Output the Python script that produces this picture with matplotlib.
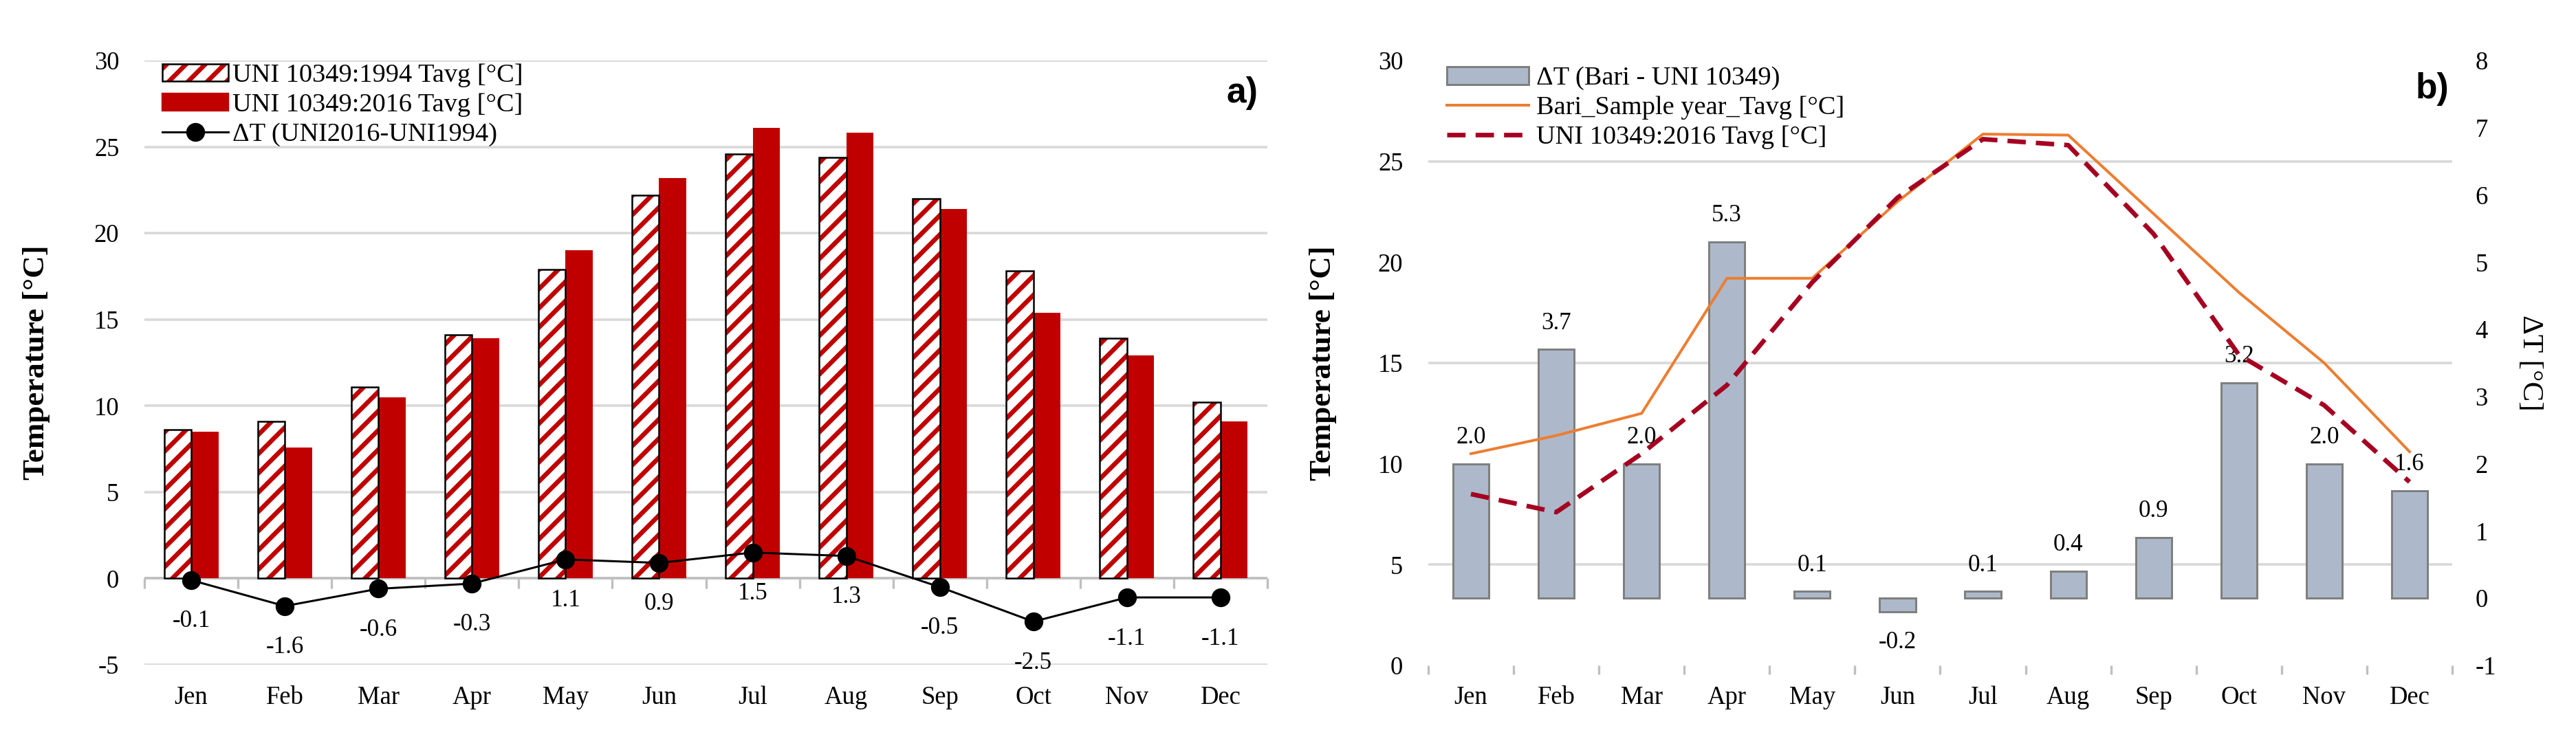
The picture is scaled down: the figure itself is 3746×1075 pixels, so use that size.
import numpy as np
import matplotlib
matplotlib.use('Agg')
import matplotlib.pyplot as plt
from matplotlib.patches import Patch
from matplotlib.lines import Line2D

# ---------------- data ----------------
months = ['Jen', 'Feb', 'Mar', 'Apr', 'May', 'Jun', 'Jul', 'Aug', 'Sep', 'Oct', 'Nov', 'Dec']
uni1994_tavg = [8.6, 9.1, 11.1, 14.1, 17.9, 22.2, 24.6, 24.4, 22.0, 17.8, 13.9, 10.2]
uni2016_tavg = [8.5, 7.6, 10.5, 13.9, 19.0, 23.2, 26.1, 25.8, 21.4, 15.4, 12.9, 9.1]
dT_uni = [-0.1, -1.6, -0.6, -0.3, 1.1, 0.9, 1.5, 1.3, -0.5, -2.5, -1.1, -1.1]
bari_tavg = [10.5, 11.4, 12.5, 19.2, 19.2, 23.0, 26.35, 26.3, 22.4, 18.5, 15.0, 10.6]
dT_bari = [2.0, 3.7, 2.0, 5.3, 0.1, -0.2, 0.1, 0.4, 0.9, 3.2, 2.0, 1.6]

labels_a = ['UNI 10349:1994 Tavg [°C]', 'UNI 10349:2016 Tavg [°C]', 'ΔT (UNI2016-UNI1994)']
labels_b = ['ΔT (Bari - UNI 10349)', 'Bari_Sample year_Tavg [°C]', 'UNI 10349:2016 Tavg [°C]']

# ---------------- style ----------------
DPI = 168
W, H = 3747, 1075


def p(v):
    # sizes below were tuned for 120 dpi; convert to points at DPI
    return v * 120.0 / DPI


plt.rcParams['font.family'] = ['Liberation Serif', 'DejaVu Serif']
plt.rcParams['hatch.linewidth'] = p(4.0)
plt.rcParams['axes.unicode_minus'] = False

RED = '#C00000'
GRID = '#D9D9D9'
AXGRAY = '#BFBFBF'
BARB = '#ADB9CA'
BAREDGE = '#7F7F7F'
ORANGE = '#ED7D31'
DASHRED = '#A50021'
FS = p(22)
LFS = p(23)

fig = plt.figure(figsize=(W / DPI, H / DPI), dpi=DPI)
fig.patch.set_facecolor('white')


def rect(x0, y0, x1, y1):
    return [x0 / W, 1 - y1 / H, (x1 - x0) / W, (y1 - y0) / H]


x = np.arange(len(months))

# ---------------- panel a ----------------
axA = fig.add_axes(rect(210, 88, 1843, 967))
bw = 0.29
axA.bar(x - bw / 2, uni1994_tavg, bw, facecolor='white', edgecolor=RED, hatch='//',
        linewidth=0, zorder=2)
axA.bar(x - bw / 2, uni1994_tavg, bw, fill=False, edgecolor='black', linewidth=p(1.5), zorder=2.1)
axA.bar(x + bw / 2, uni2016_tavg, bw, color=RED, linewidth=0, zorder=2)
axA.axhline(0, color=AXGRAY, lw=p(2.2), zorder=1.5)
axA.plot(x, dT_uni, color='black', lw=p(1.8), marker='o', ms=p(15), zorder=3)
for xi, v in zip(x, dT_uni):
    axA.annotate(f'{v:.1f}', (xi, v), xytext=(0, p(-36)), textcoords='offset points',
                 ha='center', va='center', fontsize=p(21), zorder=4)

axA.set_xlim(-0.5, len(months) - 0.5)
axA.set_ylim(-5, 30)
axA.set_yticks(np.arange(-5, 31, 5))
axA.set_xticks(x, months)
axA.tick_params(axis='both', length=0, labelsize=FS)
axA.tick_params(axis='y', pad=p(22))
axA.tick_params(axis='x', pad=p(18))
axA.grid(axis='y', color=GRID, lw=p(2.2), zorder=0)
axA.set_axisbelow(True)
for s in axA.spines.values():
    s.set_visible(False)
ylo, yhi = axA.get_ylim()
secA = axA.secondary_xaxis((0 - ylo) / (yhi - ylo))
secA.set_xticks(np.arange(-0.5, len(months), 1.0))
secA.tick_params(length=p(9), width=p(2), color=AXGRAY, labelbottom=False)
for s in secA.spines.values():
    s.set_visible(False)

axA.set_ylabel('Temperature [°C]', fontweight='bold', fontsize=p(27))
axA.yaxis.set_label_coords(-0.0839, 0.5)

hA = [(Patch(facecolor='white', edgecolor=RED, hatch='//', linewidth=0),
       Patch(fill=False, edgecolor='black', linewidth=p(1.5))),
      Patch(facecolor=RED, edgecolor=RED),
      Line2D([], [], color='black', lw=p(1.8), marker='o', ms=p(15))]
axA.legend(hA, labels_a, loc='upper left', bbox_to_anchor=(0.016, 0.995), frameon=False,
           fontsize=LFS, handlelength=2.5, handleheight=0.65, handletextpad=0.15,
           labelspacing=0.22, borderpad=0, borderaxespad=0)

fig.text(1807 / W, 1 - 135 / H, 'a)', family=['Liberation Sans', 'DejaVu Sans'],
         fontweight='bold', fontsize=p(31), ha='center', va='center')

# ---------------- panel b ----------------
axB = fig.add_axes(rect(2077, 88, 3566, 968))
axB2 = axB.twinx()
axB2.set_zorder(axB.get_zorder() - 1)
axB.patch.set_visible(False)

axB.set_xlim(-0.5, len(months) - 0.5)
axB.set_ylim(0, 30)
axB2.set_ylim(-1, 8)

# grid of the temperature axis, drawn behind the bars
tticks = np.arange(0, 31, 5)
l0, l1 = axB.get_ylim()
r0, r1 = axB2.get_ylim()
axB2.set_yticks(r0 + (tticks - l0) * (r1 - r0) / (l1 - l0), minor=True)
axB2.grid(which='minor', axis='y', color=GRID, lw=p(2.2), zorder=0)
axB2.set_axisbelow(True)
axB2.tick_params(which='minor', length=0)

axB2.bar(x, dT_bari, 0.42, color=BARB, edgecolor=BAREDGE, linewidth=p(1.8), zorder=2)
for xi, v in zip(x, dT_bari):
    off = p(23) if v >= 0 else p(-27)
    axB2.annotate(f'{v:.1f}', (xi, v), xytext=(0, off), textcoords='offset points',
                  ha='center', va='center', fontsize=p(21), zorder=4)

axB.plot(x, bari_tavg, color=ORANGE, lw=p(2.4), zorder=3)
axB.plot(x, uni2016_tavg, color=DASHRED, lw=p(4), dashes=(4, 2.2), zorder=4)

axB.set_yticks(tticks)
axB.set_xticks(x, months)
axB.set_xticks(np.arange(-0.5, len(months), 1.0), minor=True)
axB.tick_params(axis='both', which='major', length=0, labelsize=FS)
axB.tick_params(axis='x', which='minor', length=p(8), width=p(2), color=AXGRAY)
axB.tick_params(axis='y', pad=p(22))
axB.tick_params(axis='x', which='major', pad=p(18))
axB2.set_yticks(np.arange(-1, 9, 1))
axB2.tick_params(axis='y', which='major', length=0, labelsize=FS, pad=p(20))
for a in (axB, axB2):
    for s in a.spines.values():
        s.set_visible(False)

axB.set_ylabel('Temperature [°C]', fontweight='bold', fontsize=p(27))
axB.yaxis.set_label_coords(-0.0893, 0.5)
axB2.set_ylabel('ΔT [°C]', rotation=270, fontsize=p(26), va='center')
axB2.yaxis.set_label_coords(1.0759, 0.5)

hB = [Patch(facecolor=BARB, edgecolor=BAREDGE, linewidth=p(1.8)),
      Line2D([], [], color=ORANGE, lw=p(2.4)),
      Line2D([], [], color=DASHRED, lw=p(4), dashes=(4, 2.2))]
axB.legend(hB, labels_b, loc='upper left', bbox_to_anchor=(0.018, 0.99), frameon=False,
           fontsize=LFS, handlelength=3.1, handleheight=0.65, handletextpad=0.3,
           labelspacing=0.22, borderpad=0, borderaxespad=0)

fig.text(3537 / W, 1 - 130 / H, 'b)', family=['Liberation Sans', 'DejaVu Sans'],
         fontweight='bold', fontsize=p(31), ha='center', va='center')

fig.savefig('out.png', dpi=DPI, facecolor='white')
